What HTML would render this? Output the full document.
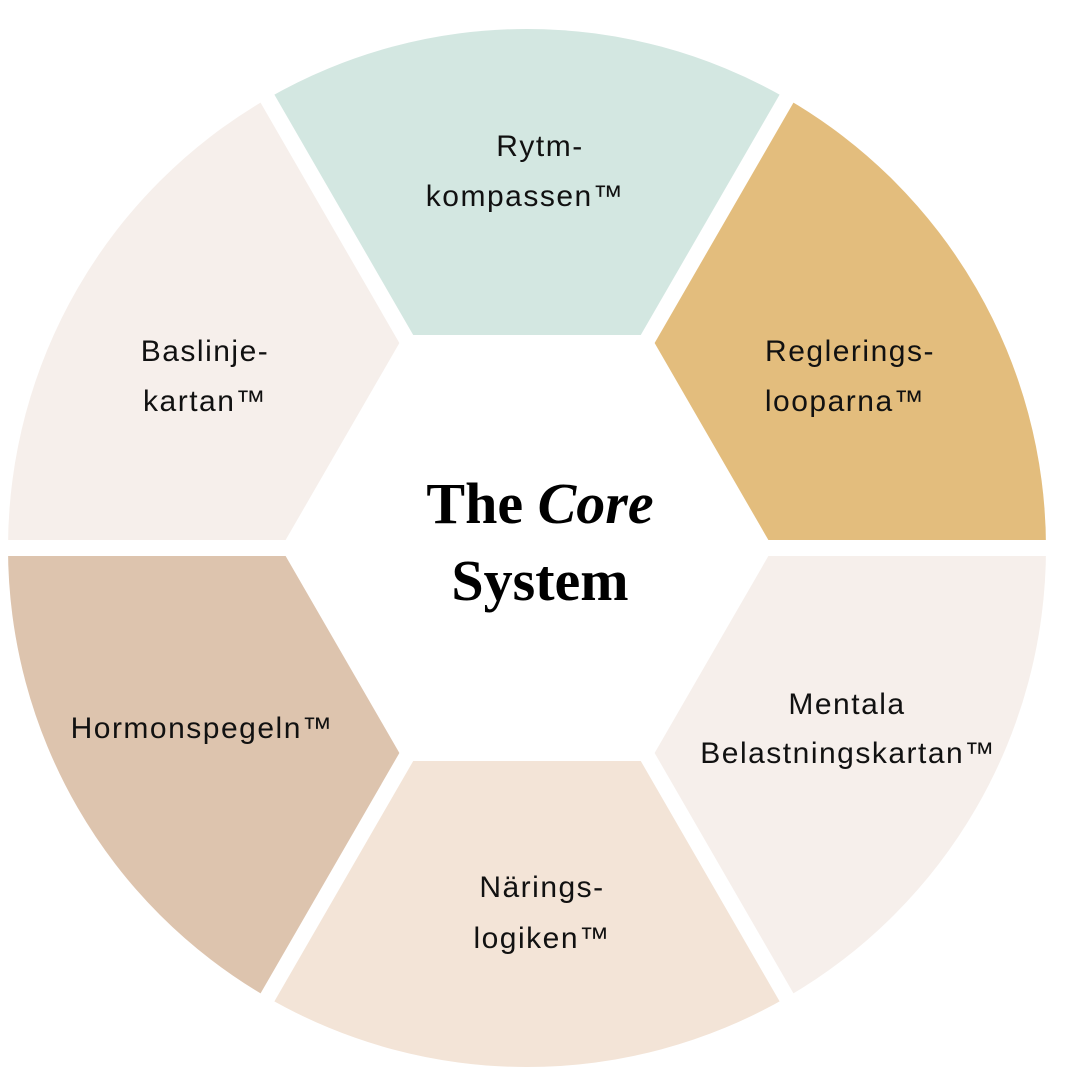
<!DOCTYPE html>
<html><head><meta charset="utf-8"><style>html,body{margin:0;padding:0;background:#fff}svg{display:block}</style></head>
<body>
<svg width="1080" height="1080" viewBox="0 0 1080 1080" xmlns="http://www.w3.org/2000/svg">
<g>
<path d="M527 548 L786.5 98.5 A519 519 0 0 0 267.5 98.5 Z" fill="#d3e7e1"/>
<path d="M527 548 L1046 548 A519 519 0 0 0 786.5 98.5 Z" fill="#e3bd7d"/>
<path d="M527 548 L786.5 997.5 A519 519 0 0 0 1046 548 Z" fill="#f6efeb"/>
<path d="M527 548 L267.5 997.5 A519 519 0 0 0 786.5 997.5 Z" fill="#f3e4d7"/>
<path d="M527 548 L8 548 A519 519 0 0 0 267.5 997.5 Z" fill="#ddc4ae"/>
<path d="M527 548 L267.5 98.5 A519 519 0 0 0 8 548 Z" fill="#f6efeb"/>
</g>
<g stroke="#fff" stroke-width="16">
<line x1="0" y1="548" x2="1080" y2="548"/>
<line x1="244" y1="58" x2="810" y2="1038"/>
<line x1="810" y1="58" x2="244" y2="1038"/>
</g>
<polygon points="773,548 650,335 404,335 281,548 404,761 650,761" fill="#fff"/>
<g font-family="'Liberation Sans', sans-serif" font-size="30" letter-spacing="1.5" fill="#111" text-anchor="middle">
<text x="540" y="156">Rytm-</text>
<text x="525" y="206">kompassen™</text>
<text x="205" y="361">Baslinje-</text>
<text x="205" y="411">kartan™</text>
<text x="850" y="361">Reglerings-</text>
<text x="845" y="411">looparna™</text>
<text x="202" y="738">Hormonspegeln™</text>
<text x="847" y="714">Mentala</text>
<text x="848" y="763">Belastningskartan™</text>
<text x="542" y="897">Närings-</text>
<text x="542" y="948">logiken™</text>
</g>
<g font-family="'Liberation Serif', serif" font-weight="bold" font-size="58" fill="#000" text-anchor="middle">
<text x="540" y="523">The <tspan font-style="italic">Core</tspan></text>
<text x="540" y="600">System</text>
</g>
</svg>
</body></html>
